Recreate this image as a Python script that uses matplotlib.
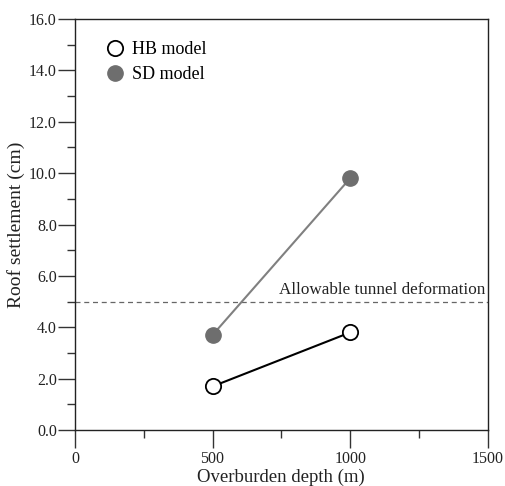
import matplotlib
matplotlib.use('Agg')
import matplotlib.pyplot as plt
from matplotlib.ticker import MultipleLocator, FormatStrFormatter

plt.rcParams['font.family'] = ['Liberation Serif', 'DejaVu Serif']

depth = [500, 1000]
hb_settlement = [1.7, 3.8]
sd_settlement = [3.7, 9.8]
allowable = 5.0

fig = plt.figure(figsize=(5.06, 4.86), dpi=100)
ax = fig.add_axes([0.148, 0.115, 0.816, 0.846])

ax.axhline(allowable, color='#666666', ls=(0, (4, 3)), lw=0.9, zorder=1)
ax.text(1490, allowable + 0.15, 'Allowable tunnel deformation', ha='right', va='bottom',
        fontsize=12.3, color='#222222')

ax.plot(depth, hb_settlement, color='black', lw=1.5, marker='o', ms=11,
        mfc='white', mec='black', mew=1.3, label='HB model', zorder=3)
ax.plot(depth, sd_settlement, color='#808080', lw=1.5, marker='o', ms=11,
        mfc='#6e6e6e', mec='#6e6e6e', mew=1.0, label='SD model', zorder=3)

ax.set_xlim(0, 1500)
ax.set_ylim(0, 16)
ax.xaxis.set_major_locator(MultipleLocator(500))
ax.xaxis.set_minor_locator(MultipleLocator(250))
ax.yaxis.set_major_locator(MultipleLocator(2))
ax.yaxis.set_minor_locator(MultipleLocator(1))
ax.yaxis.set_major_formatter(FormatStrFormatter('%.1f'))

ax.tick_params(which='major', direction='out', length=12, width=1, color='#333333',
               labelsize=11.5, labelcolor='#222222')
ax.tick_params(which='minor', direction='out', length=6, width=1, color='#333333')
ax.tick_params(axis='x', which='major', length=13, pad=2)
ax.tick_params(axis='y', which='major', pad=1)
for s in ax.spines.values():
    s.set_color('#222222')
    s.set_linewidth(1.0)

ax.set_xlabel('Overburden depth (m)', fontsize=13.5, color='#222222', labelpad=1)
ax.set_ylabel('Roof settlement (cm)', fontsize=14, color='#222222', labelpad=3)

leg = ax.legend(loc='upper left', bbox_to_anchor=(0.035, 0.985), frameon=False, fontsize=13,
                handlelength=1.0, handletextpad=0.45, labelspacing=0.45)
for h in leg.legend_handles:
    h.set_linestyle('none')

fig.savefig('out.png', dpi=100)
